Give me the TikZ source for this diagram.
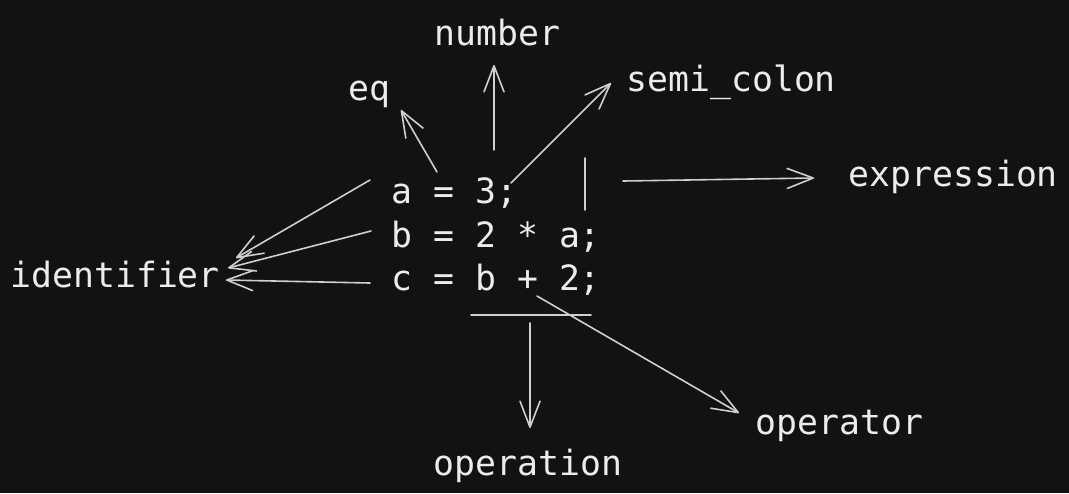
\documentclass[tikz,border=0pt]{standalone}
\usepackage{fontspec}
\setmonofont{DejaVu Sans Mono}
\usetikzlibrary{arrows.meta}
\definecolor{bgdark}{HTML}{121212}
\definecolor{inkfg}{HTML}{ECECEC}
\definecolor{strokefg}{HTML}{CFCFCF}
\tikzset{
	lbl/.style={anchor=base west, inner sep=0pt, text=inkfg, font=\ttfamily\fontsize{17.4}{20}\selectfont},
	stroke/.style={draw=strokefg, line width=0.8pt, line cap=round},
	pointer/.style={stroke, -{Straight Barb[length=13pt,width=10pt,round]}}
}
\begin{document}
\begin{tikzpicture}[x=0.5pt,y=-0.5pt]
\fill[bgdark] (0,0) rectangle (1069,493);
\useasboundingbox (0,0) rectangle (1069,493);

% the code
\node[lbl] (la) at (391,203) {a = 3;};
\node[lbl] (lb) at (391,247) {b = 2 * a;};
\node[lbl] (lc) at (391,290) {c = b + 2;};

% the token names
\node[lbl] (number) at (434,45) {number};
\node[lbl] (eq) at (348,100) {eq};
\node[lbl] (semi) at (626,91) {semi\_colon};
\node[lbl] (expr) at (848,186) {expression};
\node[lbl] (ident) at (10,287) {identifier};
\node[lbl] (oper) at (755,434) {operator};
\node[lbl] (operation) at (433,475) {operation};

% where the strokes start and end
\coordinate (eqfrom) at (437,172);   \coordinate (eqto) at (401,110);
\coordinate (numfrom) at (494,150);  \coordinate (numto) at (494,65);
\coordinate (semifrom) at (511,183); \coordinate (semito) at (611,83);
\coordinate (bartop) at (585,158);   \coordinate (barbot) at (585,210);
\coordinate (exprfrom) at (623,181); \coordinate (exprto) at (814,178);
\coordinate (idfroma) at (370,180);  \coordinate (idtoa) at (236,258);
\coordinate (idfromb) at (371,231);  \coordinate (idtob) at (228,268);
\coordinate (idfromc) at (370,283);  \coordinate (idtoc) at (226,280);
\coordinate (ulleft) at (471,315);   \coordinate (ulright) at (591,315);
\coordinate (opnfrom) at (530,323);  \coordinate (opnto) at (530,428);
\coordinate (opfrom) at (537,296);   \coordinate (opto) at (739,413);

\draw[pointer] (eqfrom) -- (eqto);
\draw[pointer] (numfrom) -- (numto);
\draw[pointer] (semifrom) -- (semito);
\draw[stroke] (bartop) -- (barbot);
\draw[pointer] (exprfrom) -- (exprto);
\draw[pointer] (idfroma) -- (idtoa);
\draw[pointer] (idfromb) -- (idtob);
\draw[pointer] (idfromc) -- (idtoc);
\draw[stroke] (ulleft) -- (ulright);
\draw[pointer] (opnfrom) -- (opnto);
\draw[pointer] (opfrom) -- (opto);

\end{tikzpicture}
\end{document}
